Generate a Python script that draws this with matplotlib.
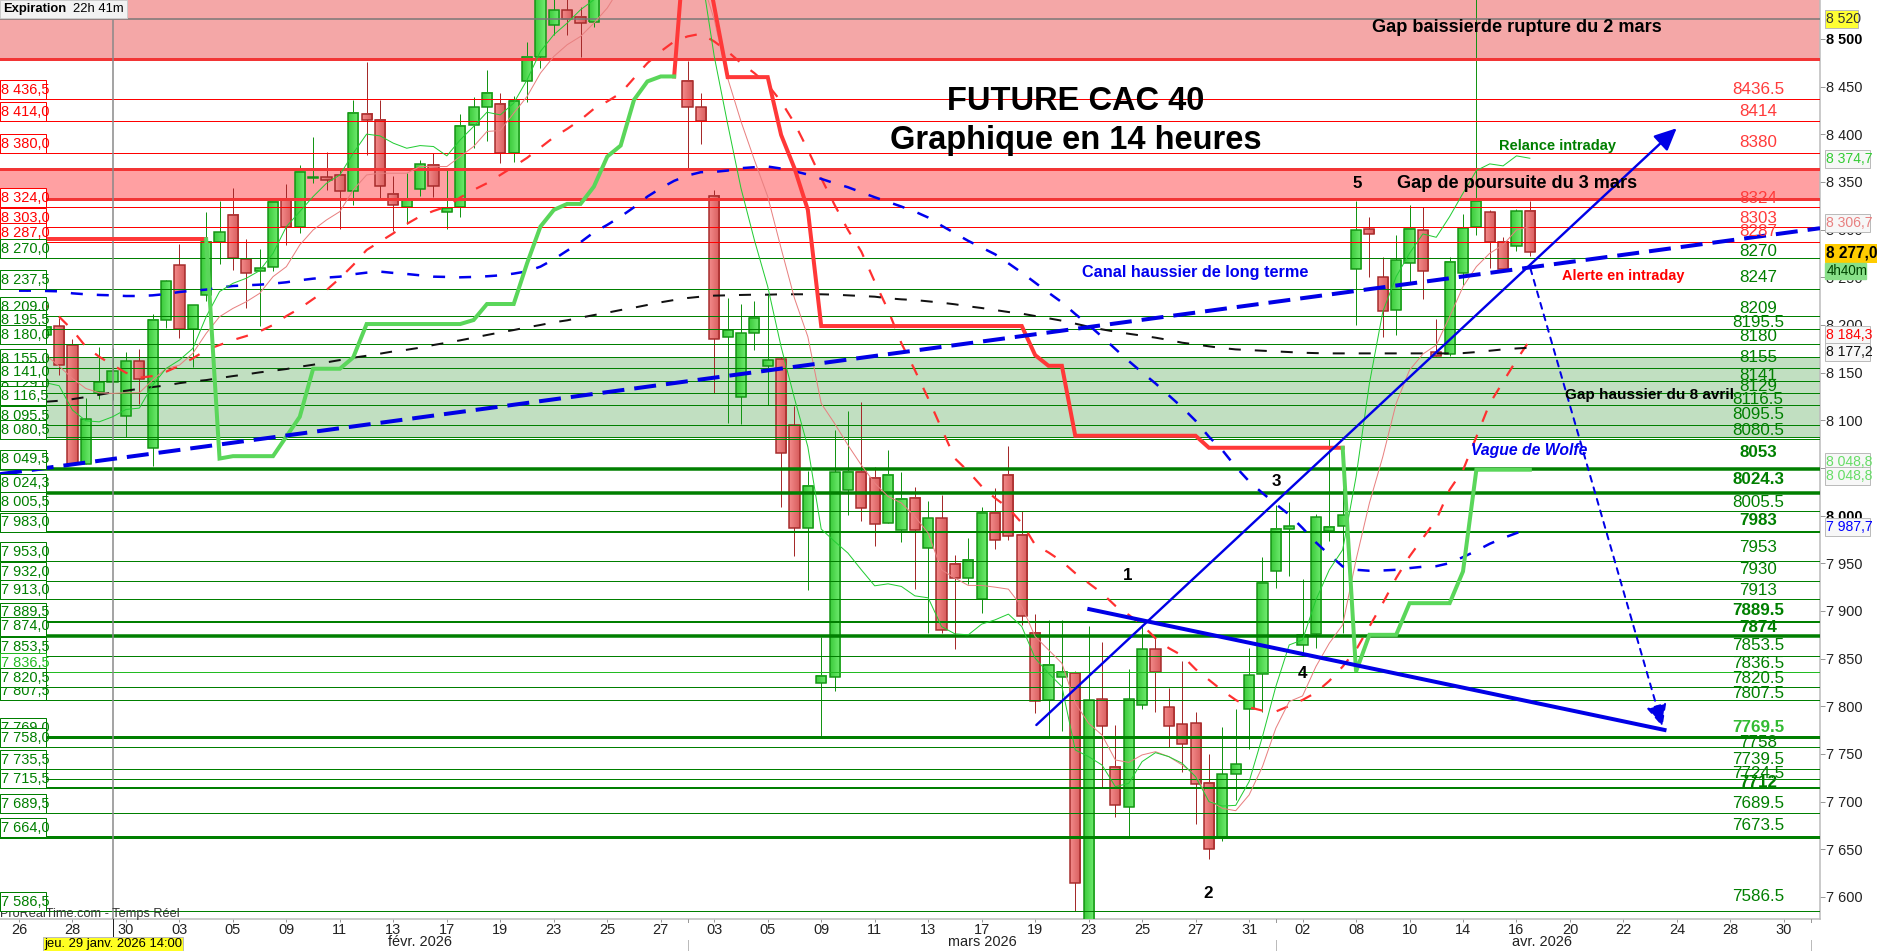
#!/usr/bin/env python3
# -*- coding: utf-8 -*-
"""
Future CAC 40, 14 hour candles with levels, gaps and Wolfe wave drawings
"""
import matplotlib
matplotlib.use("Agg")
import matplotlib.pyplot as plt
from matplotlib.colors import LinearSegmentedColormap
from matplotlib.patches import Rectangle
import numpy as np

W, H = 1877, 951
Y_TOP, Y_BOTTOM = 8540.9, 7576.9
X_LEFT, X_RIGHT = -1.42, 134.7

x_tick_labels = ["26", "28", "30", "03", "05", "09", "11", "13", "17", "19", "23", "25", "27",
                 "03", "05", "09", "11", "13", "17", "19", "23", "25", "27", "31",
                 "02", "08", "10", "14", "16", "20", "22", "24", "28", "30"]
y_ticks = [7600, 7650, 7700, 7750, 7800, 7850, 7900, 7950, 8000, 8050, 8100, 8150, 8200,
           8250, 8300, 8350, 8400, 8450, 8500]

candle_idx = list(range(2, 44)) + list(range(50, 114))
opens = [8189.1, 8198.5, 8178.6, 8054.0, 8130.0, 8140.4, 8104.8, 8161.8, 8070.5, 8204.9,
         8262.6, 8195.8, 8231.1, 8286.8, 8315.1, 8269.6, 8257.0, 8260.5, 8331.2, 8302.5,
         8354.6, 8355.0, 8357.1, 8340.3, 8421.2, 8414.8, 8337.2, 8324.2, 8343.1, 8367.6,
         8318.2, 8323.5, 8410.3, 8428.5, 8431.6, 8380.2, 8455.8, 8481.0, 8514.6, 8530.0,
         8523.0, 8517.4,
         8455.8, 8428.5, 8335.7, 8187.0, 8124.7, 8191.2, 8157.2, 8163.9, 8094.6, 7986.6,
         7824.2, 7831.2, 8026.5, 8046.3, 8039.5, 7992.2, 7984.5, 8018.4, 7965.9, 7997.1,
         7949.2, 7934.1, 7912.4, 8002.7, 8042.6, 7979.6, 7877.4, 7806.3, 7830.5, 7835.1,
         7570.0, 7807.4, 7736.0, 7694.7, 7801.8, 7859.9, 7799.0, 7781.2, 7782.2, 7719.2,
         7663.2, 7729.3, 7797.6, 7833.6, 7941.8, 7985.9, 7864.1, 7876.0, 7983.8, 7989.4,
         8258.4, 8300.4, 8250.0, 8216.0, 8264.7, 8299.3, 8171.3, 8169.2, 8254.9, 8302.5,
         8318.2, 8287.5, 8283.2, 8319.3]
highs = [8197.5, 8207.6, 8184.9, 8123.0, 8176.5, 8175.4, 8171.2, 8174.4, 8211.5, 8247.2,
         8284.6, 8220.6, 8318.6, 8330.2, 8343.4, 8290.2, 8279.4, 8328.8, 8348.0, 8367.6,
         8397.4, 8381.6, 8365.1, 8436.2, 8476.1, 8436.2, 8356.4, 8359.2, 8373.2, 8380.2,
         8362.7, 8421.2, 8439.0, 8467.7, 8443.2, 8439.7, 8496.8, 8560.0, 8545.0, 8545.0,
         8533.5, 8545.0,
         8477.2, 8443.2, 8341.7, 8228.0, 8222.0, 8225.1, 8231.4, 8166.0, 8114.9, 8047.0,
         7872.2, 8089.7, 8109.6, 8118.7, 8051.2, 8068.7, 8045.6, 8030.0, 8015.3, 8022.0,
         7959.0, 7976.5, 8009.0, 8029.0, 8072.9, 8004.5, 7897.0, 7890.7, 7890.7, 7837.2,
         7884.4, 7867.2, 7780.4, 7838.9, 7885.4, 7871.5, 7819.6, 7847.6, 7793.8, 7750.0,
         7778.4, 7797.2, 7861.0, 7956.5, 8011.5, 8014.2, 7933.7, 8001.6, 8080.6, 8029.0,
         8330.2, 8313.4, 8271.3, 8294.4, 8325.9, 8323.5, 8206.2, 8271.0, 8316.5, 8560.0,
         8320.7, 8292.3, 8321.4, 8330.2]
lows = [8189.1, 8147.5, 8054.7, 8054.0, 8121.9, 8121.2, 8082.0, 8117.0, 8052.2, 8196.4,
        8186.3, 8156.2, 8225.5, 8264.0, 8257.7, 8217.8, 8199.2, 8257.0, 8284.0, 8296.2,
        8349.4, 8341.7, 8301.1, 8326.3, 8378.8, 8333.0, 8298.3, 8306.0, 8335.8, 8334.7,
        8301.1, 8313.7, 8385.8, 8393.5, 8370.4, 8371.4, 8434.4, 8469.8, 8504.1, 8503.8,
        8481.0, 8512.5,
        8364.4, 8390.0, 8128.2, 8097.4, 8096.0, 8173.7, 8116.0, 8008.6, 7957.2, 7921.5,
        7768.2, 7816.5, 8000.9, 7994.0, 7967.7, 7992.2, 7971.9, 7922.9, 7876.7, 7876.7,
        7860.3, 7928.5, 7898.4, 7964.9, 7974.0, 7885.4, 7793.4, 7768.2, 7774.5, 7585.2,
        7570.0, 7715.7, 7684.2, 7663.9, 7797.6, 7794.5, 7757.7, 7731.1, 7676.5, 7639.4,
        7659.0, 7701.7, 7755.6, 7794.5, 7923.6, 7936.2, 7854.0, 7861.0, 7973.0, 7876.7,
        8200.0, 8250.7, 8187.0, 8189.4, 8243.7, 8227.6, 8167.8, 8167.4, 8242.0, 8294.4,
        8259.8, 8258.4, 8277.6, 8272.4]
closes = [8197.5, 8157.6, 8054.7, 8100.9, 8140.4, 8151.3, 8161.8, 8143.2, 8204.9, 8245.8,
          8195.8, 8220.6, 8286.8, 8297.2, 8269.9, 8254.9, 8259.4, 8328.8, 8303.2, 8360.2,
          8355.1, 8351.9, 8340.3, 8422.2, 8414.8, 8345.5, 8325.6, 8331.2, 8368.6, 8345.5,
          8323.2, 8408.5, 8428.5, 8443.2, 8380.2, 8434.8, 8481.0, 8560.0, 8530.0, 8521.2,
          8516.7, 8545.0,
          8428.2, 8414.2, 8185.6, 8195.0, 8191.2, 8207.0, 8162.9, 8065.9, 7986.6, 8031.0,
          7831.6, 8045.4, 8045.6, 8008.0, 7991.2, 8042.6, 8017.4, 7984.5, 7997.1, 7879.9,
          7934.1, 7953.0, 8002.7, 7974.3, 7978.2, 7894.6, 7805.6, 7843.1, 7835.8, 7614.9,
          7806.3, 7779.8, 7696.1, 7807.4, 7859.9, 7836.1, 7779.8, 7760.9, 7718.9, 7649.9,
          7728.6, 7739.2, 7832.6, 7929.2, 7985.9, 7989.0, 7875.0, 7998.5, 7988.0, 8000.6,
          8299.3, 8295.2, 8215.0, 8267.9, 8300.4, 8256.3, 8167.8, 8265.8, 8301.4, 8330.2,
          8287.5, 8258.4, 8319.3, 8276.2]

avg_idx = list(range(2, 114))
fast_avg = [8139.4, 8136.3, 8110.7, 8099.5, 8098.4, 8103.7, 8111.4, 8112.8, 8137.0, 8154.4,
            8163.2, 8175.4, 8208.7, 8235.0, 8243.7, 8249.0, 8257.0, 8275.2, 8303.2, 8319.0,
            8334.7, 8348.7, 8357.4, 8380.2, 8400.2, 8398.4, 8390.7, 8385.4, 8388.2, 8387.2,
            8377.4, 8394.2, 8408.2, 8423.2, 8420.4, 8432.7, 8457.2, 8487.0, 8504.5, 8516.7,
            8530.7, 8541.2, 8560.0, 8585.0, 8610.0, 8625.0, 8630.0, 8620.0, 8600.0, 8572.7,
            8481.7, 8411.0, 8343.4, 8289.2, 8240.2, 8177.2, 8123.0, 8072.2, 7985.9, 7973.0,
            7960.7, 7943.2, 7926.4, 7928.5, 7925.7, 7915.9, 7913.8, 7883.7, 7876.0, 7875.0,
            7886.2, 7890.7, 7896.7, 7883.7, 7850.5, 7834.7, 7820.7, 7754.2, 7747.2, 7738.4,
            7715.7, 7719.2, 7742.0, 7751.4, 7747.2, 7740.2, 7726.2, 7700.0, 7695.4, 7696.1,
            7720.9, 7768.2, 7820.7, 7864.4, 7869.7, 7911.7, 7943.2, 7964.2, 8040.7, 8138.7,
            8213.9, 8250.7, 8275.2, 8295.5, 8292.0, 8313.7, 8338.2, 8362.0, 8369.0, 8366.9,
            8377.4, 8374.9]
slow_avg = [8168.4, 8156.9, 8143.9, 8133.4, 8128.9, 8128.2, 8128.9, 8128.9, 8142.2, 8154.4,
            8157.9, 8170.2, 8191.2, 8208.7, 8217.4, 8224.4, 8233.2, 8250.7, 8261.2, 8284.0,
            8299.7, 8310.2, 8319.0, 8341.7, 8357.4, 8359.2, 8359.2, 8359.2, 8366.2, 8366.2,
            8366.2, 8376.7, 8387.2, 8403.0, 8404.0, 8422.2, 8439.7, 8464.2, 8481.7, 8494.0,
            8502.7, 8516.7, 8532.5, 8555.0, 8570.0, 8590.0, 8600.0, 8600.0, 8590.0, 8565.0,
            8520.2, 8459.0, 8413.5, 8373.2, 8334.7, 8280.4, 8228.0, 8187.7, 8117.7, 8096.7,
            8074.0, 8053.0, 8034.2, 8020.2, 8013.2, 7999.2, 7981.7, 7943.2, 7934.5, 7926.8,
            7926.8, 7925.0, 7922.9, 7904.7, 7873.2, 7859.2, 7845.2, 7803.2, 7782.2, 7769.9,
            7743.7, 7741.2, 7749.0, 7752.4, 7747.2, 7738.4, 7728.0, 7701.7, 7693.0, 7690.5,
            7707.0, 7736.7, 7777.0, 7805.0, 7810.9, 7841.7, 7866.2, 7885.5, 7953.7, 8013.2,
            8061.7, 8117.7, 8152.7, 8169.5, 8179.0, 8208.7, 8240.2, 8261.2, 8275.2, 8284.0,
            8299.7, 8303.2]

band_idx = list(range(0, 114))
red_band = [8243.7, 8231.4, 8221.0, 8208.7, 8194.7, 8177.2, 8166.7, 8158.0, 8149.9, 8144.7,
            8146.4, 8151.0, 8157.2, 8165.0, 8173.7, 8179.0, 8184.2, 8188.4, 8193.3, 8200.0,
            8209.4, 8217.4, 8227.2, 8236.7, 8249.0, 8263.0, 8278.7, 8287.4, 8296.2, 8306.0,
            8314.0, 8319.6, 8324.2, 8333.7, 8341.7, 8348.7, 8357.4, 8366.2, 8375.3, 8386.1,
            8397.0, 8405.7, 8415.2, 8426.8, 8434.5, 8443.2, 8459.0, 8474.7, 8487.0, 8497.4,
            8502.7, 8505.5, 8497.4, 8487.0, 8474.7, 8464.2, 8452.0, 8434.4, 8411.7, 8383.7,
            8354.0, 8326.0, 8299.7, 8277.0, 8245.4, 8215.7, 8180.7, 8152.7, 8123.0, 8091.4,
            8060.0, 8046.4, 8030.7, 8018.4, 8008.0, 7992.2, 7969.4, 7961.4, 7952.0, 7939.7,
            7929.2, 7918.7, 7905.4, 7895.9, 7885.4, 7871.4, 7861.0, 7853.2, 7838.9, 7827.7,
            7816.5, 7806.7, 7799.0, 7795.5, 7794.5, 7800.4, 7806.7, 7814.4, 7826.7, 7841.7,
            7859.2, 7883.7, 7908.2, 7934.5, 7957.2, 7976.5, 7995.7, 8027.2, 8047.7, 8082.7,
            8117.7, 8140.4, 8163.2, 8184.2]
blue_band = [8236.0, 8236.0, 8235.7, 8235.3, 8233.2, 8232.2, 8231.5, 8231.1, 8230.4, 8230.4,
             8231.1, 8232.5, 8234.6, 8236.0, 8237.1, 8239.2, 8240.9, 8241.6, 8242.3, 8243.4,
             8244.8, 8246.9, 8248.6, 8249.7, 8250.7, 8253.2, 8254.9, 8256.0, 8254.6, 8253.5,
             8252.1, 8250.7, 8250.4, 8250.0, 8250.4, 8251.1, 8252.1, 8253.9, 8256.3, 8261.2,
             8268.9, 8278.0, 8286.8, 8297.3, 8305.0, 8313.7, 8323.5, 8334.7, 8343.5, 8351.2,
             8356.8, 8360.3, 8360.6, 8362.0, 8364.5, 8365.5, 8366.2, 8364.1, 8361.3, 8357.8,
             8353.3, 8348.7, 8344.5, 8339.2, 8334.0, 8329.1, 8324.2, 8319.0, 8312.7, 8304.2,
             8296.2, 8288.2, 8281.2, 8274.2, 8264.7, 8254.9, 8244.4, 8233.9, 8223.8, 8211.5,
             8200.0, 8187.7, 8174.8, 8162.2, 8150.2, 8138.7, 8126.1, 8113.5, 8099.5, 8082.7,
             8068.7, 8051.2, 8036.0, 8023.7, 8012.2, 8001.0, 7987.0, 7971.9, 7959.0, 7946.7,
             7943.2, 7942.2, 7942.5, 7943.2, 7945.0, 7946.4, 7947.0, 7950.2, 7956.5, 7963.2,
             7970.5, 7976.5, 7981.7, 7987.0]
black_avg = [8119.5, 8120.5, 8122.2, 8124.4, 8126.8, 8129.3, 8131.0, 8133.1, 8134.9, 8136.6,
             8139.0, 8140.8, 8142.2, 8144.3, 8146.4, 8148.2, 8150.3, 8152.0, 8153.8, 8156.2,
             8158.3, 8160.8, 8163.2, 8165.7, 8167.7, 8169.9, 8172.3, 8174.0, 8176.2, 8179.0,
             8181.4, 8183.9, 8186.7, 8189.5, 8192.2, 8194.7, 8197.5, 8200.0, 8202.8, 8204.9,
             8207.7, 8210.4, 8212.9, 8215.7, 8218.2, 8221.0, 8223.8, 8226.2, 8228.3, 8229.7,
             8230.8, 8231.1, 8231.5, 8231.8, 8231.8, 8232.2, 8232.2, 8232.2, 8232.2, 8231.8,
             8231.1, 8230.4, 8229.7, 8228.0, 8226.9, 8226.2, 8224.8, 8223.4, 8221.7, 8219.6,
             8217.8, 8215.7, 8213.6, 8211.9, 8209.4, 8207.0, 8204.5, 8201.4, 8198.2, 8195.4,
             8193.0, 8190.8, 8188.8, 8186.7, 8184.2, 8181.4, 8179.6, 8177.6, 8175.8, 8174.4,
             8173.7, 8173.0, 8172.3, 8171.6, 8170.9, 8170.5, 8170.2, 8170.2, 8170.2, 8170.2,
             8170.2, 8170.2, 8170.2, 8170.2, 8170.2, 8170.2, 8170.5, 8171.6, 8173.0, 8174.4,
             8175.4, 8176.2]

# step line, red while above the price, green while below
red_step1_idx = [-1.42, 14]
red_step1 = [8289.9, 8289.9]
green_step1_idx = [14, 15, 16, 19, 21, 22, 24, 25, 26, 33, 34, 35, 37, 38, 39, 40, 41, 42, 43, 44,
                   45, 46, 47, 48, 49]
green_step1 = [8289.9, 8059.9, 8062.4, 8062.4, 8103.7, 8154.1, 8154.1, 8166.0, 8201.0, 8201.0,
               8205.2, 8222.0, 8222.0, 8264.7, 8303.2, 8320.7, 8327.0, 8327.0, 8345.2, 8376.7,
               8388.2, 8436.2, 8455.5, 8460.7, 8460.7]
red_step2_idx = [49, 50, 51, 52, 53, 56, 57, 58, 59, 60, 75, 76, 77, 78, 79, 88, 89, 99]
red_step2 = [8460.7, 8637.0, 8607.7, 8534.0, 8460.0, 8460.0, 8399.4, 8364.4, 8320.7, 8198.9,
             8198.9, 8168.4, 8157.2, 8157.2, 8083.8, 8083.8, 8071.2, 8071.2]
green_step2_idx = [99, 100, 101, 103, 104, 107, 108, 109, 113]
green_step2 = [8071.2, 7836.4, 7875.0, 7875.0, 7908.2, 7908.2, 7941.5, 8048.2, 8048.2]

# level, line width in pixels, left label
red_levels = [8436.7, 8413.6, 8380.0, 8323.4, 8302.4, 8286.7]
red_labels = ["8 436,5", "8 414,0", "8 380,0", "8 324,0", "8 303,0", "8 287,0"]
green_levels = [8269.9, 8237.4, 8209.1, 8195.4, 8179.7, 8154.5, 8128.3, 8140.9, 8115.7, 8094.7,
                8080.0, 8049.3, 8023.8, 8004.5, 7983.2, 7952.0, 7931.0, 7912.2, 7888.5, 7873.8,
                7852.4, 7835.7, 7806.3, 7819.9, 7767.5, 7757.0, 7734.0, 7714.3, 7687.7, 7662.6,
                7585.0]
green_labels = ["8 270,0", "8 237,5", "8 209,0", "8 195,5", "8 180,0", "8 155,0", "8 129,0",
                "8 141,0", "8 116,5", "8 095,5", "8 080,5", "8 049,5", "8 024,3", "8 005,5",
                "7 983,0", "7 953,0", "7 932,0", "7 913,0", "7 889,5", "7 874,0", "7 853,5",
                "7 836,5", "7 807,5", "7 820,5", "7 769,0", "7 758,0", "7 735,5", "7 715,5",
                "7 689,5", "7 664,0", "7 586,5"]
green_widths = [1, 1, 1, 1, 1, 1, 1, 1, 1, 1, 1, 3.5, 3.5, 1, 2, 1, 1, 1, 2, 3.5, 1, 1, 1, 1, 3, 1,
                1, 2, 1, 3, 1]
extra_green_levels = [7723.4]

# right hand level texts: text, price where the text sits, bold
right_red = ["8436.5", "8414", "8380", "8324", "8303", "8287"]
right_red_y = [8447.2, 8424.1, 8391.6, 8332.9, 8311.9, 8297.9]
right_green = ["8270", "8247", "8209", "8195.5", "8180", "8155", "8141", "8129", "8116.5", "8095.5",
               "8080.5", "8053", "8024.3", "8005.5", "7983", "7953", "7930", "7913", "7889.5",
               "7874", "7853.5", "7836.5", "7820.5", "7807.5", "7769.5", "7758", "7739.5", "7724.5",
               "7712", "7689.5", "7673.5", "7586.5"]
right_green_y = [8277.6, 8249.6, 8216.8, 8202.8, 8188.4, 8165.4, 8147.5, 8135.3, 8122.0, 8106.3,
                 8088.8, 8066.4, 8037.8, 8014.0, 7994.4, 7966.1, 7943.0, 7922.0, 7900.7, 7882.9,
                 7864.3, 7845.1, 7829.4, 7813.6, 7778.0, 7762.2, 7743.7, 7729.7, 7719.9, 7698.2,
                 7674.5, 7600.0]
right_bold = ["8053", "8024.3", "7983", "7889.5", "7874", "7769.5", "7712"]

# wave drawings: start index, start price, end index, end price
wolfe_down = [80.05, 7901.9, 123.07, 7775.2]
wolfe_up = [76.09, 7780.4, 123.98, 8406.4]
wolfe_target = [113.04, 8259.4, 122.92, 7778.7]
channel = [-1.42, 8043.5, 134.7, 8301.5]

FONT = "Liberation Sans"
plt.rcParams["font.family"] = [FONT, "DejaVu Sans"]
GREEN = "#007f00"
RED = "#ff0000"
GREEN_BODY = LinearSegmentedColormap.from_list("green_body", ["#3ccc3c", "#72ec72"])
RED_BODY = LinearSegmentedColormap.from_list("red_body", ["#f28a8a", "#d85c5c"])
GRADIENT = np.linspace(0, 1, 16).reshape(1, -1)


def px(width):
    # pixels to points at 100 dpi
    return width * 0.72


def dash(on, off, width):
    return (0, (on / width, off / width))


def price_y(price):
    return (Y_TOP - price) / (Y_TOP - Y_BOTTOM) * 919


def draw_candles(ax):
    half = 0.38
    for i, o, h, l, c in zip(candle_idx, opens, highs, lows, closes):
        up = c >= o
        edge = "#149414" if up else "#a52a2a"
        low, top = min(o, c), max(o, c)
        ax.vlines(i, l, h, color=edge, lw=px(1), zorder=3)
        ax.imshow(GRADIENT, extent=[i - half, i + half, low, top], aspect="auto",
                  cmap=GREEN_BODY if up else RED_BODY, interpolation="bilinear", zorder=3.1)
        ax.add_patch(Rectangle((i - half, low), 2 * half, top - low, fc="none", ec=edge,
                               lw=px(1.5), zorder=3.2))


def draw_levels(ax):
    ax.axhspan(8478.7, Y_TOP, color="#f4a7a7", lw=0, zorder=1)
    ax.axhspan(8331.8, 8363.3, color="#ffa0a2", lw=0, zorder=1)
    ax.axhspan(8082.0, 8166.0, color="#c1dfc1", lw=0, zorder=1)
    for level in [8478.7, 8363.3, 8331.8]:
        ax.axhline(level, color="#f23535", lw=px(3), zorder=4)
    for level in red_levels:
        ax.axhline(level, color=RED, lw=px(1), zorder=4)
    for level, width, label in zip(green_levels, green_widths, green_labels):
        color = "#22bb22" if label == "7 836,5" else GREEN
        ax.axhline(level, color=color, lw=px(width), zorder=4)
    for level in extra_green_levels:
        ax.axhline(level, color=GREEN, lw=px(1), zorder=4)
    ax.axhline(8082.0, color=GREEN, lw=px(1), zorder=4)
    ax.axhline(8166.0, color=GREEN, lw=px(1), zorder=4)
    ax.axhline(8521.0, color="#777777", lw=px(1.5), zorder=4)
    ax.axvline(7, color="#888888", lw=px(1.5), zorder=4)


def draw_lines(ax):
    ax.plot(band_idx, red_band, color="#ff3030", lw=px(2.2), ls=dash(12, 14, 2.2), zorder=5)
    ax.plot(band_idx, blue_band, color="#0000ee", lw=px(2.5), ls=dash(12, 14, 2.5), zorder=5)
    ax.plot(avg_idx, black_avg, color="#111111", lw=px(2), ls=dash(12, 14, 2), zorder=5)
    ax.plot(avg_idx, slow_avg, color="#e88080", lw=px(1), zorder=5)
    ax.plot(avg_idx, fast_avg, color="#22cc33", lw=px(1), zorder=5)
    for idx, vals in [(red_step1_idx, red_step1), (red_step2_idx, red_step2)]:
        ax.plot(idx, vals, color="#ff3838", lw=px(4), solid_joinstyle="miter", zorder=5.5)
    for idx, vals in [(green_step1_idx, green_step1), (green_step2_idx, green_step2)]:
        ax.plot(idx, vals, color="#5ad65a", lw=px(4), solid_joinstyle="miter", zorder=5.5)

    ax.plot(channel[0::2], channel[1::2], color="#0000e6", lw=px(4), ls=dash(22, 10, 4), zorder=6)
    ax.plot(wolfe_down[0::2], wolfe_down[1::2], color="#0000e6", lw=px(4), zorder=6)
    ax.annotate("", xy=(wolfe_up[2], wolfe_up[3]), xytext=(wolfe_up[0], wolfe_up[1]), zorder=6,
                arrowprops=dict(arrowstyle="-|>,head_length=0.9,head_width=0.42", color="#0000e6",
                                lw=px(2.4), shrinkA=0, shrinkB=0, mutation_scale=15))
    ax.annotate("", xy=(wolfe_target[2], wolfe_target[3]), xytext=(wolfe_target[0], wolfe_target[1]),
                zorder=6, arrowprops=dict(arrowstyle="-|>,head_length=0.9,head_width=0.42",
                                          color="#0000e6", lw=px(2), ls=(0, (3, 3)),
                                          shrinkA=0, shrinkB=0, mutation_scale=15))


def left_box(over, price, label, color, zorder):
    bottom = price_y(price)
    over.add_patch(Rectangle((0, bottom - 19), 46.5, 19, fc="white", ec=color, lw=px(1), zorder=zorder))
    over.text(1, bottom - 9.5, label, color=color, fontsize=px(14.5), va="center", ha="left",
              zorder=zorder + 0.1)


def right_tag(over, price, label, color, face="#f7f7f7", edge="#bbbbbb", bold=False, x1=1870.5):
    y = price_y(price)
    over.add_patch(Rectangle((1825, y - 9), x1 - 1825, 18, fc=face, ec=edge, lw=px(1), zorder=30))
    over.text(1826.5, y, label, color=color, fontsize=px(15.5 if bold else 14),
              fontweight="bold" if bold else "normal", va="center", ha="left", zorder=31)


def draw_labels(over):
    z = 20
    for level, label in zip(red_levels, red_labels):
        left_box(over, level, label, RED, z)
        z += 1
    for level, label in zip(green_levels, green_labels):
        left_box(over, level, label, "#22bb22" if label == "7 836,5" else GREEN, z)
        z += 1

    for label, y in zip(right_red, right_red_y):
        over.text(1758, price_y(y), label, color="#ff3b3b", fontsize=px(17), ha="center", va="center", zorder=18)
    for label, y in zip(right_green, right_green_y):
        bold = label in right_bold
        color = "#33bb33" if label == "7769.5" else GREEN
        over.text(1758, price_y(y), label, color=color, fontsize=px(17),
                  fontweight="bold" if bold else "normal", ha="center", va="center", zorder=18)

    # tags of the price scale
    right_tag(over, 8521.0, "8 520", "#333333", face="#ffff33", x1=1858)
    right_tag(over, 8374.6, "8 374,7", "#33cc33")
    right_tag(over, 8306.7, "8 306,7", "#e88080")
    right_tag(over, 8189.0, "8 184,3", RED)
    right_tag(over, 8171.6, "8 177,2", "#111111")
    right_tag(over, 8056.8, "8 048,8", "#66dd66")
    right_tag(over, 8041.2, "8 048,8", "#66dd66")
    right_tag(over, 7987.6, "7 987,7", "#0000ff")
    right_tag(over, 8275.9, "8 277,0", "black", face="#ffcc00", edge="#ffcc00", bold=True, x1=1877)
    over.add_patch(Rectangle((1825, 263), 41, 16, fc="#88e088", ec="#88e088", zorder=30))
    over.text(1826.5, 271, "4h40m", color="#004400", fontsize=px(13.5), va="center", zorder=31)

    # free texts on the chart
    over.text(1076, 102, "FUTURE CAC 40", fontsize=px(32.6), fontweight="bold", ha="center", va="center", zorder=17)
    over.text(1076, 141, "Graphique en 14 heures", fontsize=px(32.6), fontweight="bold", ha="center", va="center", zorder=17)
    free = [(1372, 28, "Gap baissierde rupture du 2 mars", "black", 18.2),
            (1397.5, 184, "Gap de poursuite du 3 mars", "black", 18.2),
            (1499, 146, "Relance intraday", "#007f00", 14.6),
            (1082, 273, "Canal haussier de long terme", "#0000ee", 16.3),
            (1562, 276, "Alerte en intraday", "#ff0000", 14.5),
            (1565, 395, "Gap haussier du 8 avril", "black", 15.2)]
    for x, y, label, color, size in free:
        over.text(x, y, label, color=color, fontsize=px(size), fontweight="bold", va="center", zorder=17)
    over.text(1471.5, 450, "Vague de Wolfe", color="#0000ee", fontsize=px(15.8), fontweight="bold",
              style="italic", va="center", zorder=19)
    for x, y, label in [(1128, 575, "1"), (1208.5, 894, "2"), (1276, 482, "3"), (1303, 673, "4"), (1357, 184, "5")]:
        over.text(x, y, label, fontsize=px(17), fontweight="bold", ha="center", va="center", zorder=17)

    # header, footer and date cursor
    over.add_patch(Rectangle((0, 0), 127.5, 18, fc="#f2f2f2", ec="#cccccc", lw=px(1), zorder=40))
    over.text(3, 9, "Expiration", fontsize=px(13), fontweight="bold", va="center", zorder=41)
    over.text(73, 9, "22h 41m", fontsize=px(13), va="center", zorder=41)
    over.text(0.5, 914, "ProRealTime.com - Temps Réel", color="#333333", fontsize=px(12.7), va="center", zorder=41)
    over.add_patch(Rectangle((43.5, 937), 139.5, 14, fc="#ffff22", ec="#bbbbbb", lw=px(1), zorder=40))
    over.text(113, 944.5, "jeu. 29 janv. 2026 14:00", fontsize=px(13), ha="center", va="center", zorder=41)
    over.plot([113, 113], [919, 937], color="#222222", lw=px(1), zorder=39)
    for x, y, label in [(420, 942, "févr. 2026"), (982, 942, "mars 2026"), (1542.5, 942, "avr. 2026")]:
        over.text(x, y, label, color="#222222", fontsize=px(14.5), ha="center", va="center", zorder=41)
    for x in [688.5, 1276.5, 1811.5]:
        over.plot([x, x], [940, 951], color="#bbbbbb", lw=px(1), zorder=39)
        over.plot([x, x], [919, 922], color="#999999", lw=px(1), zorder=39)


def main():
    fig = plt.figure(figsize=(W / 100, H / 100), dpi=100, facecolor="white")
    ax = fig.add_axes([0, (H - 919) / H, 1820 / W, 919 / H])

    draw_levels(ax)
    draw_candles(ax)
    draw_lines(ax)
    ax.set_xlim(X_LEFT, X_RIGHT)
    ax.set_ylim(Y_BOTTOM, Y_TOP)

    for side in ["top", "left"]:
        ax.spines[side].set_visible(False)
    for side in ["right", "bottom"]:
        ax.spines[side].set_color("#bbbbbb")
        ax.spines[side].set_linewidth(px(1.5))

    ax.set_xticks(range(0, 4 * len(x_tick_labels), 4))
    ax.set_xticklabels(x_tick_labels, fontsize=px(14.5), color="#222222")
    ax.tick_params(axis="x", length=px(3), width=px(1), color="#999999", pad=px(1))
    ax.yaxis.tick_right()
    ax.set_yticks(y_ticks)
    ax.set_yticklabels([f"{t // 1000} {t % 1000:03d}" for t in y_ticks], fontsize=px(14.5), color="#222222")
    ax.tick_params(axis="y", length=px(5), width=px(1), color="#999999", pad=px(1))
    for tick, value in zip(ax.get_yticklabels(), y_ticks):
        if value in (8000, 8500):
            tick.set_fontweight("bold")
            tick.set_color("black")

    over = fig.add_axes([0, 0, 1, 1], facecolor="none")
    over.set_xlim(0, W)
    over.set_ylim(H, 0)
    over.axis("off")
    draw_labels(over)

    fig.savefig("out.png", dpi=100)


if __name__ == "__main__":
    main()
